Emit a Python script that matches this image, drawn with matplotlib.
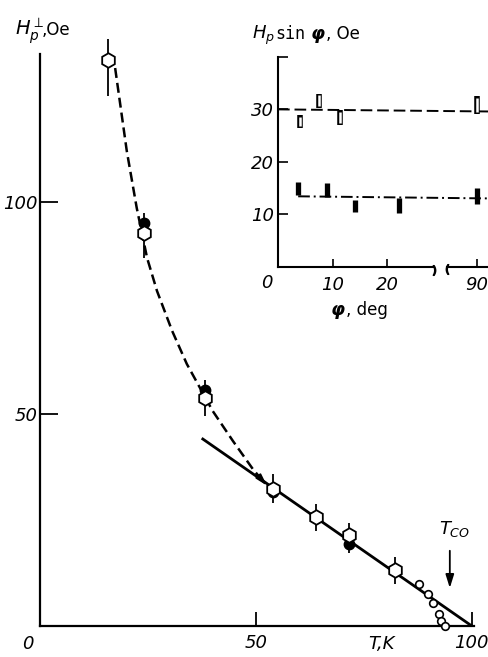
import numpy as np
import matplotlib
matplotlib.use("Agg")
import matplotlib.pyplot as plt

plt.rcParams['font.family'] = ['DejaVu Sans']
plt.rcParams['mathtext.fontset'] = 'dejavusans'

# ---- main panel: H_p(perp) vs T ----
T_open = [15.7, 24.1, 38.2, 53.9, 63.9, 71.5, 82.2]
H_open = [133.5, 92.7, 53.8, 32.3, 25.7, 21.5, 13.2]
H_open_lo = [125.0, 86.8, 49.5, 29.0, 22.4, 17.2, 9.9]
H_open_hi = [138.4, 97.4, 58.0, 35.8, 28.8, 24.3, 16.3]

T_filled = [24.1, 38.2, 53.9, 71.5]
H_filled = [95.0, 55.6, 31.6, 19.3]

T_small = [87.7, 89.8, 91.0, 92.4, 92.8, 93.8]
H_small = [9.9, 7.5, 5.4, 2.8, 1.2, 0.0]

# dashed guide curve
T_dash = [17.4, 20.1, 22.4, 24.8, 27.1, 30.6, 34.0, 40.0, 44.7, 49.3, 51.6]
H_dash = [131.6, 112.0, 98.6, 86.8, 79.0, 69.6, 61.8, 50.7, 43.6, 37.0, 34.2]

# straight line
T_fit = [37.7, 100.0]
H_fit = [44.1, 0.0]
T_co = 94.9

# ---- inset: H_p sin(phi) vs phi ----
phi_open = [4.0, 7.5, 11.4, 90.0]
open_lo = [26.4, 30.2, 27.0, 29.2]
open_hi = [28.9, 33.0, 29.8, 32.5]
phi_filled = [3.7, 9.0, 14.1, 22.2, 90.0]
filled_lo = [13.6, 13.3, 10.4, 10.2, 12.0]
filled_hi = [16.1, 15.9, 12.7, 13.0, 15.0]
phi_open_line = [0.0, 108.5]
open_level = [30.0, 29.6]
phi_filled_line = [3.7, 108.5]
filled_level = [13.4, 13.0]

num_font = ['Liberation Sans Narrow', 'DejaVu Sans']

fig = plt.figure(figsize=(4.89, 6.57), dpi=100)

# main axes
ax = fig.add_axes([40 / 489, 31 / 657, 434 / 489, 593.6 / 657])
ax.set_xlim(0, 100.5)
ax.set_ylim(0, 140)
for s in ['top', 'right']:
    ax.spines[s].set_visible(False)
ax.spines['left'].set_bounds(0, 135)
for s in ['left', 'bottom']:
    ax.spines[s].set_linewidth(1.6)

ax.set_xticks([50, 100])
ax.set_xticklabels(['50', '100'], family=num_font, style='italic', fontsize=13)
ax.set_yticks([50, 100])
ax.set_yticklabels(['50', '100'], family=num_font, style='italic', fontsize=13)
ax.tick_params(axis='x', direction='in', length=10, width=1.3, pad=6)
ax.tick_params(axis='y', direction='in', length=13, width=1.3, pad=2)
ax.text(-2.8, -4.3, '0', family=num_font, style='italic', fontsize=13,
        ha='center', va='center')
ax.text(79, -4.3, 'T,K', family=num_font, style='italic', fontsize=13,
        ha='center', va='center')

ax.plot(T_fit, H_fit, color='k', lw=2.0, zorder=2)
ax.plot(T_dash, H_dash, color='k', lw=1.8, dashes=(4, 2), zorder=2)
ax.annotate('', xy=(53.0, 32.6), xytext=(50.0, 36.0),
            arrowprops=dict(arrowstyle='-|>,head_length=0.7,head_width=0.2',
                            color='k', lw=1.3))

ax.vlines(T_open, H_open_lo, H_open_hi, colors='k', lw=1.3, zorder=3,
          clip_on=False)
ax.plot(T_filled, H_filled, 'o', ms=7.5, color='k', zorder=4)
ax.plot(T_open, H_open, 'h', ms=10.5, mfc='white', mec='k', mew=1.3,
        zorder=5, clip_on=False)
ax.plot(T_small, H_small, 'o', ms=5.5, mfc='white', mec='k', mew=1.2,
        zorder=5, clip_on=False)

ax.annotate('', xy=(T_co, 8.3), xytext=(T_co, 18.4),
            arrowprops=dict(arrowstyle='-|>,head_length=0.8,head_width=0.25',
                            color='k', lw=1.3))
ax.text(T_co + 1.0, 20.5, '$T_{CO}$', fontsize=13, ha='center', va='bottom')

fig.text(15 / 489, 1 - 35 / 657, r'$H_p^{\perp}$', fontsize=14,
         va='baseline')
fig.text(42 / 489, 1 - 35 / 657, ',Oe', fontsize=12, va='baseline')

# inset axes with a broken phi axis
def fwd(x):
    x = np.asarray(x, dtype=float)
    return np.where(x <= 30, x, 30 + (x - 30) * 0.1083)

def inv(y):
    y = np.asarray(y, dtype=float)
    return np.where(y <= 30, y, 30 + (y - 30) / 0.1083)

axi = fig.add_axes([278 / 489, (657 - 266.5) / 657, 210 / 489, 209.5 / 657])
axi.set_xscale('function', functions=(fwd, inv))
axi.set_xlim(0, 108.5)
axi.set_ylim(0, 40)
axi.patch.set_visible(False)
for s in ['top', 'right', 'bottom']:
    axi.spines[s].set_visible(False)
axi.spines['left'].set_linewidth(1.5)

axi.plot([0, 28.6], [0, 0], color='k', lw=1.5, clip_on=False)
axi.plot([39.2, 108.5], [0, 0], color='k', lw=1.5, clip_on=False)
axi.plot([28.6], [-0.6], marker='$)$', ms=7, color='k', clip_on=False)
axi.plot([39.2], [-0.4], marker='$($', ms=7, color='k', clip_on=False)

axi.set_xticks([10, 20, 90])
axi.set_xticks([], minor=True)
axi.set_xticklabels(['10', '20', '90'], family=num_font, style='italic',
                    fontsize=13)
axi.set_yticks([10, 20, 30, 40])
axi.set_yticklabels(['10', '20', '30', ''], family=num_font, style='italic',
                    fontsize=13)
axi.tick_params(axis='x', direction='in', length=6, width=1.2, pad=7)
axi.tick_params(axis='y', direction='in', length=7, width=1.2, pad=3)
axi.text(-2.0, -3.2, '0', family=num_font, style='italic', fontsize=13,
         ha='center', va='center')

axi.plot(phi_open_line, open_level, color='k', lw=1.4, dashes=(6, 2.5))
axi.plot(phi_filled_line, filled_level, color='k', lw=1.4,
         dashes=(6, 2, 1, 2))
axi.vlines(phi_open, open_lo, open_hi, colors='k', lw=4.0, zorder=3)
axi.vlines(phi_open, np.array(open_lo) + 0.35, np.array(open_hi) - 0.35,
           colors='white', lw=1.8, zorder=4)
axi.vlines(phi_filled, filled_lo, filled_hi, colors='k', lw=3.8, zorder=3)

fig.text(252 / 489, 1 - 39 / 657, '$H_p$', fontsize=13, va='baseline')
fig.text(275 / 489, 1 - 39 / 657, 'sin', family='DejaVu Sans Mono',
         fontsize=12, va='baseline')
fig.text(311 / 489, 1 - 39 / 657, 'φ', weight='bold', style='italic',
         fontsize=13, va='baseline')
fig.text(326 / 489, 1 - 39 / 657, ', Oe', fontsize=12, va='baseline')

fig.text(331 / 489, 1 - 315 / 657, 'φ', weight='bold', style='italic',
         fontsize=13, va='baseline')
fig.text(346 / 489, 1 - 315 / 657, ', deg', fontsize=12, va='baseline')

fig.savefig('out.png', dpi=100)
